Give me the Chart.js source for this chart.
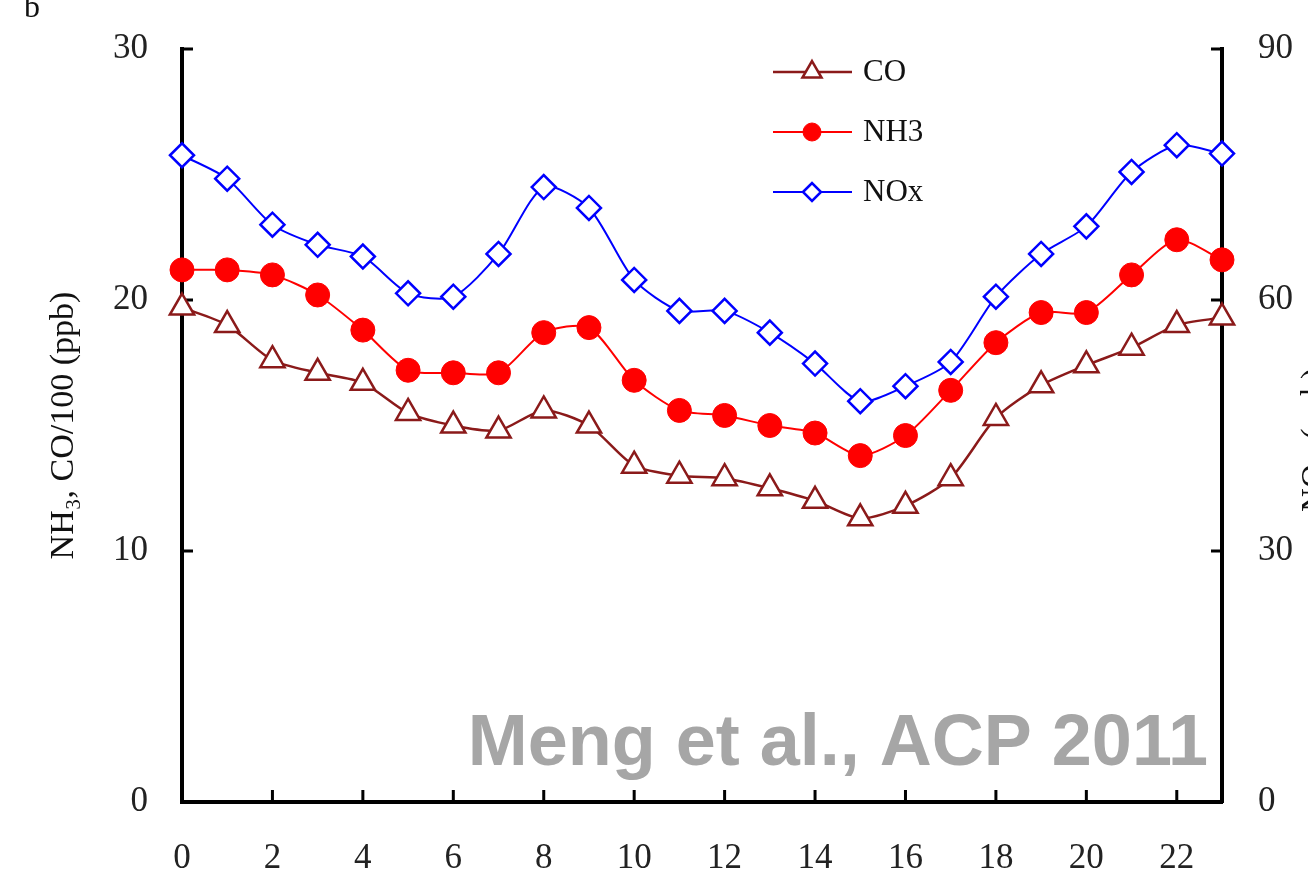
<!DOCTYPE html>
<html>
<head>
<meta charset="utf-8">
<script src="https://cdn.jsdelivr.net/npm/chart.js@4.4.0/dist/chart.umd.min.js"></script>
<style>
  html, body { margin: 0; padding: 0; background: #fff; overflow: hidden; }
  #wrap { position: absolute; left: 0; top: 0; width: 1340px; height: 891px; }
</style>
</head>
<body>
<div id="wrap"><canvas id="chart"></canvas></div>
<script>
// diurnal cycle, hour of day
const hours = ["0", "1", "2", "3", "4", "5", "6", "7", "8", "9", "10", "11",
               "12", "13", "14", "15", "16", "17", "18", "19", "20", "21", "22", "23"];

// CO/100 and NH3 on the left axis (ppb)
const coValues = [19.7, 19.0, 17.6, 17.1, 16.7, 15.5, 15.0, 14.8, 15.6, 15.0, 13.4, 13.0,
                  12.9, 12.5, 12.0, 11.3, 11.8, 12.9, 15.3, 16.6, 17.4, 18.1, 19.0, 19.3];
const nh3Values = [21.2, 21.2, 21.0, 20.2, 18.8, 17.2, 17.1, 17.1, 18.7, 18.9, 16.8, 15.6,
                   15.4, 15.0, 14.7, 13.8, 14.6, 16.4, 18.3, 19.5, 19.5, 21.0, 22.4, 21.6];
// NOx on the right axis (ppb)
const noxValues = [77.3, 74.5, 69.0, 66.6, 65.2, 60.8, 60.4, 65.5, 73.5, 71.0, 62.4, 58.7,
                   58.7, 56.1, 52.4, 47.9, 49.7, 52.6, 60.4, 65.5, 68.8, 75.3, 78.5, 77.5];

const leftTicks = [0, 10, 20, 30];
const rightTicks = [0, 30, 60, 90];

const SERIF = '"Liberation Serif", "Times New Roman", serif';
const CANVAS_W = 1340, CANVAS_H = 891;
const PLOT_LEFT = 182, PLOT_RIGHT = 1222, PLOT_TOP = 49, PLOT_BOTTOM = 802;

// Excel style ticks pointing into the plot
const innerTicks = {
    id: "innerTicks",
    beforeDatasetsDraw(chart) {
        const { ctx, chartArea, scales } = chart;
        ctx.save();
        ctx.strokeStyle = "#000";
        ctx.lineWidth = 3;
        ctx.beginPath();
        leftTicks.filter(v => v > 0).forEach(v => {
            const y = scales.y.getPixelForValue(v);
            ctx.moveTo(chartArea.left, y);
            ctx.lineTo(chartArea.left + 11, y);
        });
        rightTicks.filter(v => v > 0).forEach(v => {
            const y = scales.y1.getPixelForValue(v);
            ctx.moveTo(chartArea.right, y);
            ctx.lineTo(chartArea.right - 11, y);
        });
        hours.forEach((h, idx) => {
            if (idx === 0 || idx % 2 !== 0) return;
            const x = scales.x.getPixelForValue(idx);
            ctx.moveTo(x, chartArea.bottom);
            ctx.lineTo(x, chartArea.bottom - 12);
        });
        ctx.stroke();
        ctx.restore();
    }
};

// legend with a line through the marker
const lineLegend = {
    id: "lineLegend",
    afterDraw(chart) {
        const { ctx } = chart;
        chart.data.datasets.forEach((ds, i) => {
            const y = 72 + i * 60;
            ctx.save();
            ctx.strokeStyle = ds.borderColor;
            ctx.lineWidth = ds.borderWidth;
            ctx.beginPath();
            ctx.moveTo(773, y);
            ctx.lineTo(852, y);
            ctx.stroke();
            ctx.fillStyle = ds.pointBackgroundColor;
            ctx.strokeStyle = ds.pointBorderColor;
            ctx.lineWidth = ds.pointBorderWidth;
            Chart.helpers.drawPoint(ctx, {
                pointStyle: ds.pointStyle,
                radius: ds.legendRadius,
                borderWidth: ds.pointBorderWidth,
                rotation: 0
            }, 812, y);
            ctx.fillStyle = "#111";
            ctx.font = "31px " + SERIF;
            ctx.textBaseline = "middle";
            ctx.textAlign = "left";
            ctx.fillText(ds.label, 863, y + 1);
            ctx.restore();
        });
    }
};

// extra texts: panel letter, right axis title, watermark
const extraText = {
    id: "extraText",
    afterDraw(chart) {
        const { ctx } = chart;
        ctx.save();
        ctx.fillStyle = "#111";
        ctx.font = "32px " + SERIF;
        ctx.textBaseline = "alphabetic";
        ctx.fillText("b", 24, 17);

        ctx.save();
        ctx.translate(1315, 440);
        ctx.rotate(-Math.PI / 2);
        ctx.font = "33px " + SERIF;
        ctx.textAlign = "center";
        ctx.textBaseline = "middle";
        ctx.fillText("NOx (ppb)", 0, 0);
        ctx.restore();

        ctx.fillStyle = "#a6a6a6";
        ctx.font = 'bold 72px "Liberation Sans", Arial, sans-serif';
        ctx.textAlign = "right";
        ctx.textBaseline = "alphabetic";
        ctx.fillText("Meng et al., ACP 2011", 1208, 765);
        ctx.restore();
    }
};

const tickFont = { family: SERIF, size: 35 };

const chart = new Chart(document.getElementById("chart"), {
    type: "line",
    data: {
        labels: hours,
        datasets: [
            {
                label: "CO",
                data: coValues,
                yAxisID: "y",
                borderColor: "#8b1a1a",
                borderWidth: 2.5,
                pointStyle: "triangle",
                pointRadius: 14,
                legendRadius: 11,
                pointBackgroundColor: "#fff",
                pointBorderColor: "#8b1a1a",
                pointBorderWidth: 2.5,
                tension: 0.25,
                clip: false
            },
            {
                label: "NH3",
                data: nh3Values,
                yAxisID: "y",
                borderColor: "#ff0000",
                borderWidth: 2,
                pointStyle: "circle",
                pointRadius: 12,
                legendRadius: 9,
                pointBackgroundColor: "#ff0000",
                pointBorderColor: "#ff0000",
                pointBorderWidth: 1,
                tension: 0.25,
                clip: false
            },
            {
                label: "NOx",
                data: noxValues,
                yAxisID: "y1",
                borderColor: "#0000ff",
                borderWidth: 2,
                pointStyle: "rectRot",
                pointRadius: 12,
                legendRadius: 9,
                pointBackgroundColor: "#fff",
                pointBorderColor: "#0000ff",
                pointBorderWidth: 2.5,
                tension: 0.25,
                clip: false
            }
        ]
    },
    options: {
        responsive: true,
        maintainAspectRatio: false,
        animation: false,
        layout: { padding: { top: PLOT_TOP, left: 0, right: 0, bottom: 0 } },
        plugins: {
            legend: { display: false },
            tooltip: { enabled: false }
        },
        scales: {
            x: {
                type: "category",
                offset: false,
                grid: { display: false, drawTicks: false },
                border: { display: true, color: "#000", width: 4 },
                ticks: {
                    font: tickFont,
                    color: "#222",
                    padding: 36,
                    autoSkip: false,
                    maxRotation: 0,
                    callback: (val, idx) => (idx % 2 === 0 ? hours[idx] : "")
                },
                afterFit: (s) => {
                    s.height = CANVAS_H - PLOT_BOTTOM;
                    s.paddingLeft = 0;
                    s.paddingRight = 0;
                }
            },
            y: {
                position: "left",
                min: 0,
                max: 30,
                afterBuildTicks: (s) => { s.ticks = leftTicks.map(v => ({ value: v })); },
                grid: { display: false, drawTicks: false },
                border: { display: true, color: "#000", width: 4 },
                ticks: { font: tickFont, color: "#222", padding: 34 },
                title: {
                    display: true,
                    text: "NH\u2083, CO/100 (ppb)",
                    font: { family: SERIF, size: 34 },
                    color: "#111",
                    padding: { top: 44, bottom: 0 }
                },
                afterFit: (s) => {
                    s.width = PLOT_LEFT;
                    s.paddingTop = 0;
                    s.paddingBottom = 0;
                }
            },
            y1: {
                position: "right",
                min: 0,
                max: 90,
                afterBuildTicks: (s) => { s.ticks = rightTicks.map(v => ({ value: v })); },
                grid: { display: false, drawTicks: false },
                border: { display: true, color: "#000", width: 4 },
                ticks: { font: tickFont, color: "#222", padding: 36 },
                afterFit: (s) => {
                    s.width = CANVAS_W - PLOT_RIGHT;
                    s.paddingTop = 0;
                    s.paddingBottom = 0;
                }
            }
        }
    },
    plugins: [innerTicks, lineLegend, extraText]
});
</script>
</body>
</html>
